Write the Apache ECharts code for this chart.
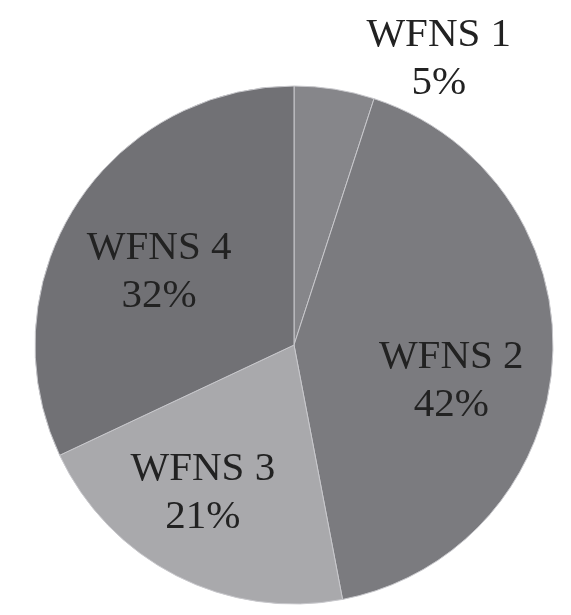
<!DOCTYPE html>
<html>
<head>
<meta charset="utf-8">
<script src="https://cdn.jsdelivr.net/npm/echarts@6/dist/echarts.min.js"></script>
<style>
html,body{margin:0;padding:0;background:#fff;}
#chart{width:571px;height:615px;}
</style>
</head>
<body>
<div id="chart"></div>
<script>
//分类与数值
var categories = ['WFNS 1', 'WFNS 2', 'WFNS 3', 'WFNS 4'];
var values = [5, 42, 21, 32];
var colors = ['#86868a', '#7b7b7f', '#a9a9ac', '#717175'];
//标签偏移
var labelShift = [[124, -155], [25, 28], [-31, 30], [-23, -2]];

var data = [];
for (var i in categories) {
	data.push({name: categories[i], value: values[i], itemStyle: {color: colors[i]}});
}

var option = {
	backgroundColor: '#fff',
	animation: false,
	series: [{
		type: 'pie',
		center: [294, 345],
		radius: [0, 259],
		startAngle: 90,
		clockwise: true,
		itemStyle: {borderColor: '#c8c8cc', borderWidth: 1},
		label: {
			position: 'inside',
			formatter: function(p) {
				return p.name + '\n' + p.value + '%';
			},
			fontFamily: "'Liberation Serif', serif",
			fontSize: 41,
			lineHeight: 48,
			color: '#222'
		},
		labelLine: {show: false},
		labelLayout: function(p) {
			return {dx: labelShift[p.dataIndex][0], dy: labelShift[p.dataIndex][1]};
		},
		emphasis: {disabled: true},
		data: data
	}]
};
var myChart = echarts.init(document.getElementById('chart'));
myChart.setOption(option, true);
</script>
</body>
</html>
